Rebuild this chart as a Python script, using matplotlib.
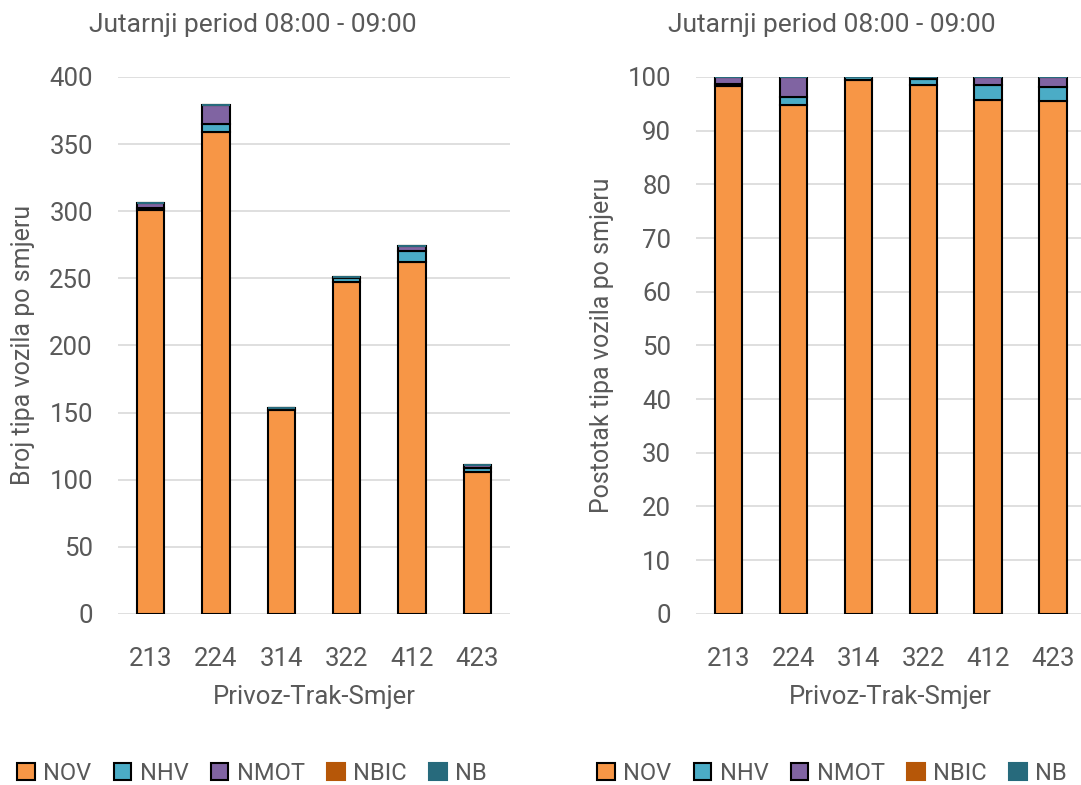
import matplotlib.pyplot as plt
import numpy as np

# Podaci
kategorije = ['213', '224', '314', '322', '412', '423']
NOV = np.array([301, 359, 152, 247, 262, 106])
NHV = np.array([1, 6, 1, 3, 8, 3])
NMOT = np.array([4, 14, 0, 1, 4, 2])
NBIC = np.array([0, 0, 0, 0, 0, 0])
NB = np.array([0, 0, 0, 0, 0, 0])

serije = ['NOV', 'NHV', 'NMOT', 'NBIC', 'NB']
boje = ['#F79646', '#4BACC6', '#8064A2', '#B65708', '#276A7C']

plt.rcParams['font.family'] = ['Roboto', 'DejaVu Sans']
siva = '#595959'

fig = plt.figure(figsize=(10.81, 7.85), dpi=100)
ax1 = fig.add_axes([0.109, 0.218, 0.363, 0.684])
ax2 = fig.add_axes([0.644, 0.218, 0.360, 0.684])

podaci = np.vstack([NOV, NHV, NMOT, NBIC, NB]).astype(float)
ukupno = podaci.sum(axis=0)
postotak = podaci / ukupno * 100

x = np.arange(len(kategorije))


def crtaj(ax, vrijednosti, ymax, korak, ylabel, leg_x, naslov_x):
    dno = np.zeros(len(kategorije))
    for i, (ime, boja) in enumerate(zip(serije, boje)):
        ax.bar(x, vrijednosti[i], 0.42, bottom=dno, color=boja,
               edgecolor='black', linewidth=1.5, label=ime, zorder=3)
        dno += vrijednosti[i]
    ax.set_xlim(-0.5, 5.5)
    ax.set_ylim(0, ymax)
    ax.set_yticks(np.arange(0, ymax + 1, korak))
    ax.set_xticks(x)
    ax.set_xticklabels(kategorije)
    ax.grid(axis='y', color='#D9D9D9', linewidth=1.2, zorder=0)
    for s in ax.spines.values():
        s.set_visible(False)
    ax.tick_params(length=0, labelsize=18.5, labelcolor=siva, pad=18)
    ax.tick_params(axis='x', pad=24)
    fig.text(naslov_x, 1 - 25 / 785, 'Jutarnji period 08:00 - 09:00', fontsize=19,
             color=siva, ha='center', va='center')
    ax.set_xlabel('Privoz-Trak-Smjer', fontsize=18.5, color=siva, labelpad=10)
    ax.set_ylabel(ylabel, fontsize=18, color=siva, labelpad=10)
    h, l = ax.get_legend_handles_labels()
    for hh in h[3:]:
        for p in hh.patches:
            p.set_edgecolor(p.get_facecolor())
    fig.legend(h, l, loc='center left', bbox_to_anchor=(leg_x, 12 / 785), ncol=5,
               frameon=False, fontsize=17, handlelength=0.75, handleheight=0.75,
               handletextpad=0.35, columnspacing=0.95, labelcolor=siva,
               borderaxespad=0, borderpad=0)


crtaj(ax1, podaci, 400, 50, 'Broj tipa vozila po smjeru', 17 / 1081, 253 / 1081)
crtaj(ax2, postotak, 100, 10, 'Postotak tipa vozila po smjeru', 597 / 1081, 832 / 1081)

fig.savefig('out.png', dpi=100)
